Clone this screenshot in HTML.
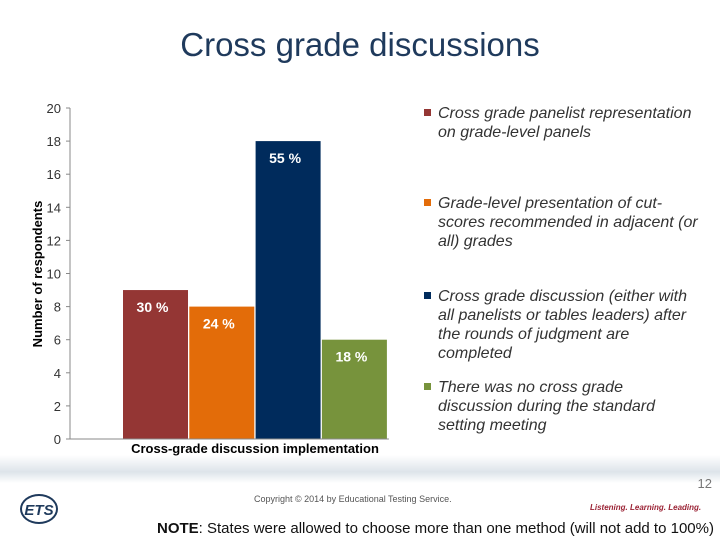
<!DOCTYPE html>
<html><head><meta charset="utf-8"><style>
body{margin:0;width:720px;height:540px;background:#fff;overflow:hidden;position:relative;font-family:"Liberation Sans",sans-serif}
.abs{position:absolute}
.leg{position:absolute;left:438px;width:264px;font-size:16px;font-style:italic;color:#333;line-height:19px}
.sw{position:absolute;left:-14px;top:5px;width:7px;height:7px}
</style></head><body>
<div class="abs" style="left:0;width:720px;top:26px;text-align:center;font-size:33px;color:#1f3a5c">Cross grade discussions</div>
<div class="abs" style="left:0;top:455px;width:720px;height:28px;background:linear-gradient(#fff,#dde4ea 60%,#fff)"></div>
<svg class="abs" style="left:0;top:0" width="720" height="470">
<g id="g"></g>
</svg>
<div class="leg" style="top:104px"><span class="sw" style="background:#943634"></span>Cross grade panelist representation on grade-level panels</div>
<div class="leg" style="top:194px"><span class="sw" style="background:#e36c09"></span>Grade-level presentation of cut-scores recommended in adjacent (or all) grades</div>
<div class="leg" style="top:287px"><span class="sw" style="background:#002b5c"></span>Cross grade discussion (either with all panelists or tables leaders) after the rounds of judgment are completed</div>
<div class="leg" style="top:378px"><span class="sw" style="background:#77933c"></span>There was no cross grade discussion during the standard setting meeting</div>
<div class="abs" style="right:8px;top:476px;font-size:13px;color:#777">12</div>
<div class="abs" style="left:254px;top:494px;font-size:9px;color:#555">Copyright © 2014 by Educational Testing Service.</div>
<div class="abs" style="left:20px;top:494px;width:38px;height:30px;border:2px solid #1f3a5c;border-radius:50%;font-size:15px;font-weight:bold;font-style:italic;color:#1f3a5c;text-align:center;line-height:30px;box-sizing:border-box">ETS</div>
<div class="abs" style="left:590px;top:503px;font-size:8px;font-style:italic;font-weight:bold;color:#9b2335">Listening. Learning. Leading.</div>
<div class="abs" style="left:157px;top:520px;font-size:15px;color:#111"><b>NOTE</b>: States were allowed to choose more than one method (will not add to 100%)</div>
<script>
const categories=["Cross grade panelist representation","Grade-level presentation","Cross grade discussion after rounds","No cross grade discussion"];
const values=[9,8,18,6];
const pctLabels=["30 %","24 %","55 %","18 %"];
const colors=["#943634","#e36c09","#002b5c","#77933c"];
const yTicks=[0,2,4,6,8,10,12,14,16,18,20];
const NS="http://www.w3.org/2000/svg",g=document.getElementById('g');
const y0=439,y1=108,ymax=20,ax=70;
const Y=v=>y0-(y0-y1)*v/ymax;
const bx0=123,bw=65,bs=66.3;
const X=i=>bx0+i*bs;
function mk(t,a,txt){const e=document.createElementNS(NS,t);for(const k in a)e.setAttribute(k,a[k]);if(txt!=null)e.textContent=txt;g.appendChild(e);return e;}
let e=mk('line',{x1:ax,y1:y1,x2:ax,y2:y0,stroke:'#888'});


yTicks.forEach(t=>{
 let l=mk('line',{x1:ax-4,x2:ax,y1:Y(t),y2:Y(t),stroke:'#888'});
 
 
 let s=mk('text',{x:ax-9,y:Y(t)+5,'text-anchor':'end','font-size':13,fill:'#333'},t);
 
 
});
values.forEach((v,i)=>{
 let r=mk('rect',{x:X(i),y:Y(v),width:bw,height:y0-Y(v),fill:colors[i]});
 
 
 let t=mk('text',{x:X(i)+bw/2-3,y:Y(v)+22,'text-anchor':'middle','font-size':14,'font-weight':'bold',fill:'#fff'},pctLabels[i]);
 
 
});
e=mk('line',{x1:ax-4,y1:y0,x2:X(3)+bw+2,y2:y0,stroke:'#888'});


e=mk('text',{x:255,y:453,'text-anchor':'middle','font-size':13,'font-weight':'bold',fill:'#000'},'Cross-grade discussion implementation');


e=mk('text',{x:0,y:0,transform:'translate(42,274) rotate(-90)','text-anchor':'middle','font-size':13,'font-weight':'bold',fill:'#000'},'Number of respondents');


</script>
</body></html>
